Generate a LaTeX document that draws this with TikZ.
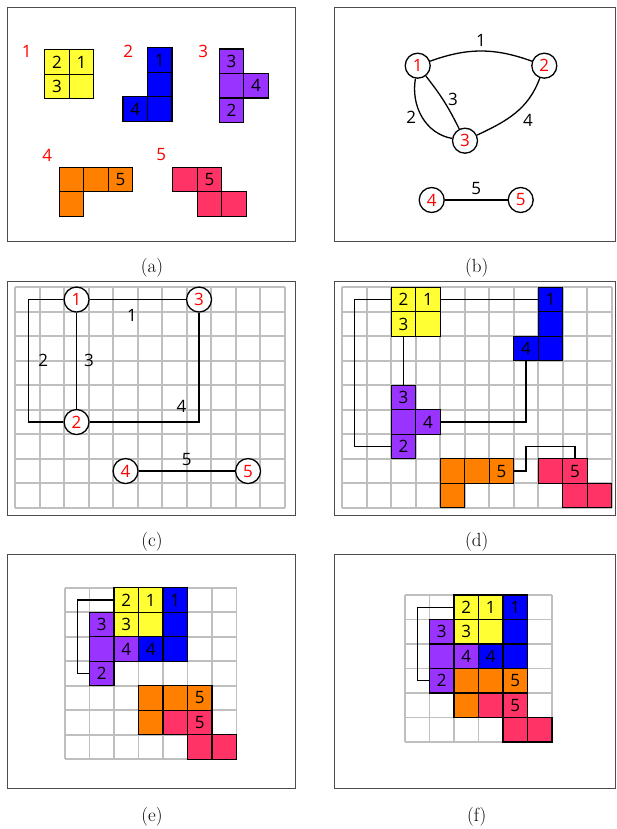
\documentclass[tikz,border=0pt]{standalone}
\usepackage{fontspec}
\setsansfont{Open Sans}
\usetikzlibrary{positioning}

\definecolor{pcYellow}{RGB}{255,255,51}
\definecolor{pcBlue}{RGB}{0,0,255}
\definecolor{pcPurple}{RGB}{153,51,255}
\definecolor{pcOrange}{RGB}{255,128,0}
\definecolor{pcPink}{RGB}{255,51,102}

\newcommand{\digitfont}{\sffamily\fontsize{17}{17}\selectfont}

% grid of #1 x #2 cells, in cell units
\newcommand{\drawgrid}[2]{%
  \foreach \i in {0,...,#1} \draw[gridline] (\i,0) -- (\i,#2);
  \foreach \j in {0,...,#2} \draw[gridline] (0,\j) -- (#1,\j);
}
% one piece: name prefix, colour, list of col/row/text/name
\newcommand{\drawpiece}[3]{%
  \foreach \cx/\cy/\txt/\nm in {#3}
    \node[cell, fill=#2] (#1\nm) at (\cx+0.5,\cy+0.5) {\txt};
}

\begin{document}
\begin{tikzpicture}[x=1pt, y=-1pt,
    frame/.style={draw=black!70, line width=0.9pt},
    gridline/.style={draw=black!25, line width=1.7pt},
    cell/.style={draw=black, line width=1.3pt, minimum size=24.5pt, inner sep=0pt, font=\digitfont},
    vertex/.style={circle, draw=black, line width=1.3pt, fill=white, minimum size=25pt, inner sep=0pt, text=red, font=\digitfont},
    wire/.style={draw=black, line width=1.3pt},
    lbl/.style={inner sep=1pt, font=\digitfont},
    piecenum/.style={inner sep=1pt, text=red, font=\digitfont},
    caption/.style={font=\fontsize{19}{20}\selectfont}]

  \useasboundingbox (0,0) rectangle (616,829);
  \def\Cell{24.5pt}

  % =======================================================
  % (a) the five pieces
  % =======================================================
  \draw[frame] (7,7) rectangle (295,241);
  \node[piecenum] (na1) at (26.7,51.7) {1};
  \node[piecenum] (na2) at (128.3,51.7) {2};
  \node[piecenum] (na3) at (203.3,51.7) {3};
  \node[piecenum] (na4) at (47.3,155) {4};
  \node[piecenum] (na5) at (161.3,155) {5};
  \begin{scope}[shift={(44.7,49.7)}, x=\Cell, y=-\Cell]
    \drawpiece{ay}{pcYellow}{0/0/2/2, 1/0/1/1, 0/1/3/3, 1/1//e}
  \end{scope}
  \begin{scope}[shift={(123,47.7)}, x=\Cell, y=-\Cell]
    \drawpiece{ab}{pcBlue}{1/0/1/1, 1/1//m, 0/2/4/4, 1/2//e}
  \end{scope}
  \begin{scope}[shift={(219.3,49)}, x=\Cell, y=-\Cell]
    \drawpiece{ap}{pcPurple}{0/0/3/3, 0/1//m, 1/1/4/4, 0/2/2/2}
  \end{scope}
  \begin{scope}[shift={(59.3,167.3)}, x=\Cell, y=-\Cell]
    \drawpiece{ao}{pcOrange}{0/0//a, 1/0//b, 2/0/5/5, 0/1//c}
  \end{scope}
  \begin{scope}[shift={(172.7,167.3)}, x=\Cell, y=-\Cell]
    \drawpiece{ak}{pcPink}{0/0//a, 1/0/5/5, 1/1//b, 2/1//c}
  \end{scope}
  \node[caption] (capa) at (152,268) {(a)};

  % =======================================================
  % (b) the graph of pieces
  % =======================================================
  \draw[frame] (334,7) rectangle (615,241);
  \node[vertex] (b1) at (417.7,65.7) {1};
  \node[vertex] (b2) at (544.3,65.7) {2};
  \node[vertex] (b3) at (465,140.7) {3};
  \node[vertex] (b4) at (431.7,200) {4};
  \node[vertex] (b5) at (520.7,200) {5};
  \draw[wire] (b1) to[bend left=20] node[lbl, above=3pt] {1} (b2);
  \draw[wire] (b1) to[out=-100, in=170] node[lbl, left=4pt] {2} (b3);
  \draw[wire] (b1) to[bend left=6] node[lbl, pos=.45, right=4pt] {3} (b3);
  \draw[wire] (b2) to[out=-110, in=25] node[lbl, below right=0pt and 6pt] {4} (b3);
  \draw[wire] (b4) -- node[lbl, above=4pt] {5} (b5);
  \node[caption] (capb) at (476.7,268) {(b)};

  % =======================================================
  % (c) the graph laid on the grid
  % =======================================================
  \draw[frame] (7,281) rectangle (295,515);
  \begin{scope}[shift={(15.3,287.3)}, x=\Cell, y=-\Cell]
    \drawgrid{11}{9}
    \node[vertex] (c1) at (2.5,0.5) {1};
    \node[vertex] (c3) at (7.5,0.5) {3};
    \node[vertex] (c2) at (2.5,5.5) {2};
    \node[vertex] (c4) at (4.5,7.5) {4};
    \node[vertex] (c5) at (9.5,7.5) {5};
    \draw[wire] (c1) -- node[lbl, pos=.44, below=8pt] {1} (c3);
    \draw[wire] (c1) -- (0.55,0.5) |- node[lbl, pos=.25, right=8pt] {2} (c2);
    \draw[wire] (c1) -- node[lbl, right=6pt] {3} (c2);
    \draw[wire] (c2) -| node[lbl, pos=.42, above=8pt] {4} (c3);
    \draw[wire] (c4) -- node[lbl, above=4pt] {5} (c5);
  \end{scope}
  \node[caption] (capc) at (152,541.7) {(c)};

  % =======================================================
  % (d) pieces placed on the grid
  % =======================================================
  \draw[frame] (334,281) rectangle (615,515);
  \begin{scope}[shift={(342.3,287.3)}, x=\Cell, y=-\Cell]
    \drawgrid{11}{9}
    \drawpiece{dy}{pcYellow}{2/0/2/2, 3/0/1/1, 2/1/3/3, 3/1//e}
    \drawpiece{db}{pcBlue}{8/0/1/1, 8/1//m, 7/2/4/4, 8/2//e}
    \drawpiece{dp}{pcPurple}{2/4/3/3, 2/5//m, 3/5/4/4, 2/6/2/2}
    \drawpiece{do}{pcOrange}{4/7//a, 5/7//b, 6/7/5/5, 4/8//c}
    \drawpiece{dk}{pcPink}{8/7//a, 9/7/5/5, 9/8//b, 10/8//c}
    \draw[wire] (dy2.west) -- (0.5,0.5) |- (dp2.west);
    \draw[wire] (dy1) -- (db1);
    \draw[wire] (dy3) -- (dp3);
    \draw[wire] (db4) |- (dp4);
    \draw[wire] (do5) -| (7.5,6.5) -| (dk5);
  \end{scope}
  \node[caption] (capd) at (476.7,541.7) {(d)};

  % =======================================================
  % (e) first compaction
  % =======================================================
  \draw[frame] (7,554.3) rectangle (295,788.3);
  \begin{scope}[shift={(65,587.7)}, x=\Cell, y=-\Cell]
    \drawgrid{7}{7}
    \drawpiece{ey}{pcYellow}{2/0/2/2, 3/0/1/1, 2/1/3/3, 3/1//e}
    \drawpiece{eb}{pcBlue}{4/0/1/1, 4/1//m, 3/2/4/4, 4/2//e}
    \drawpiece{ep}{pcPurple}{1/1/3/3, 1/2//m, 2/2/4/4, 1/3/2/2}
    \drawpiece{eo}{pcOrange}{3/4//a, 4/4//b, 5/4/5/5, 3/5//c}
    \drawpiece{ek}{pcPink}{4/5//a, 5/5/5/5, 5/6//b, 6/6//c}
    \draw[wire] (ey2.west) -- (0.5,0.5) |- (ep2.west);
  \end{scope}
  \node[caption] (cape) at (152,816.7) {(e)};

  % =======================================================
  % (f) final compaction
  % =======================================================
  \draw[frame] (334,554.3) rectangle (615,788.3);
  \begin{scope}[shift={(405,595)}, x=\Cell, y=-\Cell]
    \drawgrid{6}{6}
    \drawpiece{fy}{pcYellow}{2/0/2/2, 3/0/1/1, 2/1/3/3, 3/1//e}
    \drawpiece{fb}{pcBlue}{4/0/1/1, 4/1//m, 3/2/4/4, 4/2//e}
    \drawpiece{fp}{pcPurple}{1/1/3/3, 1/2//m, 2/2/4/4, 1/3/2/2}
    \drawpiece{fo}{pcOrange}{2/3//a, 3/3//b, 4/3/5/5, 2/4//c}
    \drawpiece{fk}{pcPink}{3/4//a, 4/4/5/5, 4/5//b, 5/5//c}
    \draw[wire] (fy2.west) -- (0.5,0.5) |- (fp2.west);
  \end{scope}
  \node[caption] (capf) at (476.7,816.7) {(f)};

\end{tikzpicture}
\end{document}
